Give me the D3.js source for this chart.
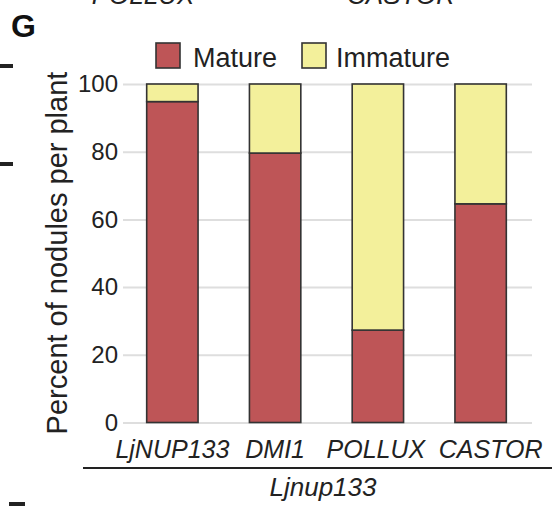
<!DOCTYPE html>
<html>
<head>
<meta charset="utf-8">
<script src="https://cdn.jsdelivr.net/npm/d3@7"></script>
<style>
  html, body { margin: 0; padding: 0; background: #fff; }
  svg { display: block; font-family: "Liberation Sans", Arial, Helvetica, sans-serif; }
</style>
</head>
<body>
<svg id="chart" width="559" height="506"></svg>
<script>
// Nodule maturity per complemented line (percent of nodules per plant)
const categories = ["LjNUP133", "DMI1", "POLLUX", "CASTOR"];
const matureValues = [94.8, 79.6, 27.3, 64.6];
const immatureValues = matureValues.map(v => 100 - v);
const seriesNames = ["Mature", "Immature"];
const seriesColors = ["#be5557", "#f3f09b"];
const yTicks = [0, 20, 40, 60, 80, 100];
const groupLabel = "Ljnup133";
const topLabels = [{ text: "POLLUX", x: 143 }, { text: "CASTOR", x: 401 }];
// horizontal nudges that keep the long labels from running into each other
const labelShift = [0, 0, -2, 10];

const svg = d3.select("#chart");

const x = d3.scaleBand()
  .domain(categories)
  .range([121, 532])
  .paddingInner(0.5)
  .paddingOuter(0.25);

const y = d3.scaleLinear().domain([0, 100]).range([422.5, 84]);

// panel letter and fragments of the neighbouring panels
svg.append("text")
  .attr("x", 11).attr("y", 37)
  .attr("font-size", 32).attr("font-weight", "bold").attr("fill", "#111")
  .text("G");

svg.selectAll("text.top")
  .data(topLabels)
  .join("text")
  .attr("class", "top")
  .attr("x", d => d.x).attr("y", 4)
  .attr("text-anchor", "middle")
  .attr("font-size", 26).attr("font-style", "italic").attr("fill", "#222")
  .text(d => d.text);

[[0, 13, 66], [0, 13, 164], [9, 25, 504]].forEach(([x1, x2, yy]) => {
  svg.append("line")
    .attr("x1", x1).attr("x2", x2).attr("y1", yy).attr("y2", yy)
    .attr("stroke", "#222").attr("stroke-width", 4);
});

// gridlines
const yAxis = d3.axisLeft(y)
  .tickValues(yTicks)
  .tickSize(-(532 - 123))
  .tickPadding(5)
  .tickFormat(d3.format("d"));

const gAxis = svg.append("g")
  .attr("transform", "translate(123,0)")
  .call(yAxis);
gAxis.select(".domain").remove();
gAxis.selectAll(".tick line").attr("stroke", "#dedede").attr("stroke-width", 2);
gAxis.selectAll(".tick text")
  .attr("font-size", 24)
  .attr("fill", "#222")
  .attr("font-family", "'Liberation Sans', Arial, sans-serif");

// stacked bars
const rows = categories.map((c, i) => ({ cat: c, Mature: matureValues[i], Immature: immatureValues[i] }));
const stack = d3.stack().keys(seriesNames)(rows);

svg.append("g")
  .selectAll("g")
  .data(stack)
  .join("g")
  .attr("fill", (d, i) => seriesColors[i])
  .selectAll("rect")
  .data(d => d)
  .join("rect")
  .attr("x", d => x(d.data.cat))
  .attr("width", x.bandwidth())
  .attr("y", d => y(d[1]))
  .attr("height", d => y(d[0]) - y(d[1]))
  .attr("stroke", "#333")
  .attr("stroke-width", 1.6);

// category labels
svg.selectAll("text.cat")
  .data(categories)
  .join("text")
  .attr("class", "cat")
  .attr("x", (d, i) => x(d) + x.bandwidth() / 2 + labelShift[i])
  .attr("y", 458)
  .attr("text-anchor", "middle")
  .attr("font-size", 25)
  .attr("font-style", "italic")
  .attr("fill", "#222")
  .text(d => d);

// group bracket
svg.append("line")
  .attr("x1", 83).attr("x2", 552)
  .attr("y1", 468).attr("y2", 468)
  .attr("stroke", "#222").attr("stroke-width", 2);

svg.append("text")
  .attr("x", 323).attr("y", 496)
  .attr("text-anchor", "middle")
  .attr("font-size", 26)
  .attr("font-style", "italic")
  .attr("fill", "#222")
  .text(groupLabel);

// y axis title
svg.append("text")
  .attr("transform", "translate(67,253) rotate(-90)")
  .attr("text-anchor", "middle")
  .attr("font-size", 29)
  .attr("fill", "#222")
  .text("Percent of nodules per plant");

// legend
const legend = svg.append("g");
const legendItems = [{ name: seriesNames[0], color: seriesColors[0], x: 156, tx: 193 },
                     { name: seriesNames[1], color: seriesColors[1], x: 302, tx: 336 }];
legend.selectAll("rect")
  .data(legendItems)
  .join("rect")
  .attr("x", d => d.x).attr("y", 43)
  .attr("width", 24).attr("height", 25)
  .attr("fill", d => d.color)
  .attr("stroke", "#333").attr("stroke-width", 1.6);
legend.selectAll("text")
  .data(legendItems)
  .join("text")
  .attr("x", d => d.tx).attr("y", 67)
  .attr("font-size", 27)
  .attr("fill", "#222")
  .text(d => d.name);
</script>
</body>
</html>
